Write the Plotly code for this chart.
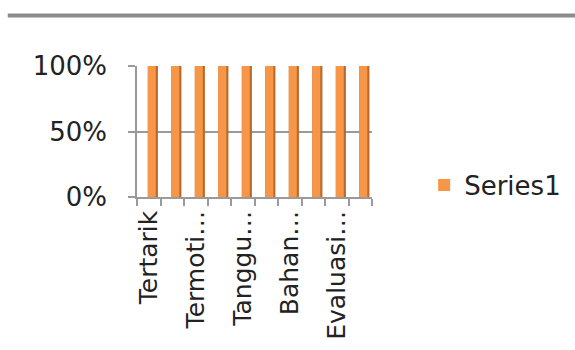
import plotly.graph_objects as go

# Ten survey items, each stacked to a full 100 %
positions = [0, 1, 2, 3, 4, 5, 6, 7, 8, 9]
series1 = [100, 100, 100, 100, 100, 100, 100, 100, 100, 100]
tick_positions = [0, 2, 4, 6, 8]
tick_labels = ["Tertarik", "Termoti…", "Tanggu…", "Bahan…", "Evaluasi…"]
y_ticks = [0, 50, 100]
y_tick_labels = ["0%", "50%", "100%"]

ORANGE = "#F79646"
ORANGE_SIDE = "#B86A2E"
GRID = "#9a9a9a"
FONT = "DejaVu Sans"
TEXT = "#222222"

fig = go.Figure()

# darker right-hand face of each bar (gives the bevelled 3-D look)
fig.add_trace(go.Bar(
    x=positions, y=series1, width=0.43, offset=-0.04,
    marker=dict(color=ORANGE_SIDE, line=dict(width=0)),
    showlegend=False, hoverinfo="skip",
))
# front face
fig.add_trace(go.Bar(
    x=positions, y=series1, width=0.34, offset=-0.04,
    name="Series1",
    marker=dict(color=ORANGE, line=dict(width=0)),
))

fig.update_layout(
    width=575, height=350,
    margin=dict(l=137, r=203, t=66, b=153, autoexpand=False),
    barmode="overlay",
    plot_bgcolor="white", paper_bgcolor="white",
    font=dict(family=FONT, size=26, color=TEXT),
    legend=dict(
        x=1.222, y=0.09, xanchor="left", yanchor="middle",
        font=dict(family=FONT, size=26, color=TEXT),
        itemwidth=30, bgcolor="rgba(0,0,0,0)",
    ),
    shapes=[
        # rule across the top of the chart
        dict(type="line", xref="paper", yref="paper",
             x0=-0.55, x1=1.9, y0=1.385, y1=1.385,
             line=dict(color="#8c8c8c", width=4)),
    ],
)

fig.update_yaxes(
    range=[0, 100], tickvals=y_ticks, ticktext=y_tick_labels,
    showgrid=True, gridcolor=GRID, gridwidth=1.5,
    showline=True, linecolor=GRID, linewidth=1.5,
    ticks="outside", ticklen=7, tickcolor=GRID, tickwidth=1.5,
    ticklabelstandoff=16, zeroline=False, automargin=False,
    tickfont=dict(family=FONT, size=26, color=TEXT),
)

fig.update_xaxes(
    range=[-0.5, 9.5],
    tickvals=tick_positions, ticktext=tick_labels,
    tickangle=-90, ticks="", showgrid=False,
    showline=True, linecolor=GRID, linewidth=1.5,
    ticklabelstandoff=2, zeroline=False, automargin=False,
    tickfont=dict(family=FONT, size=25, color=TEXT),
    minor=dict(ticks="outside", tickmode="linear", tick0=0.5, dtick=1,
               ticklen=7, tickcolor=GRID, tickwidth=1.5, showgrid=False),
)

fig.write_html("out.html")
